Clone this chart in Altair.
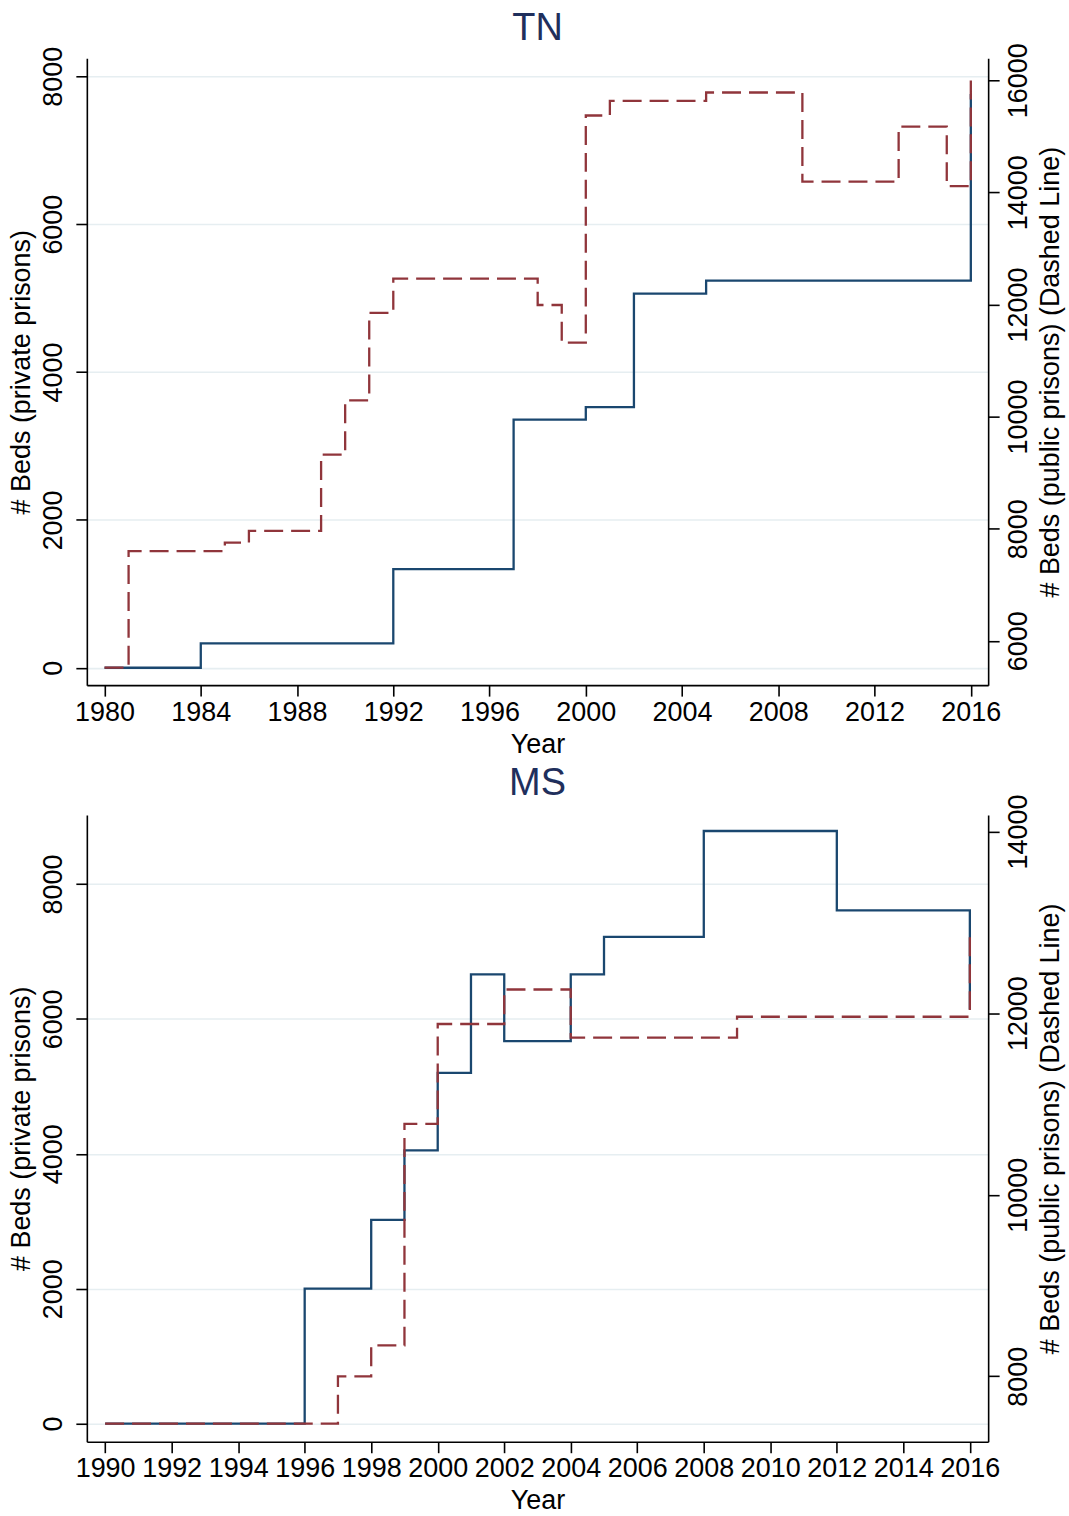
import altair as alt
import pandas as pd

BLUE = "#1a476f"
RED = "#90353b"
TITLE_COLOR = "#1f2f5c"
GRID = "#e6eef1"
FONT = "Liberation Sans"

# ---- TN data ----
tn_years = list(range(1980, 2017))
tn_private = ([0] * 4 + [330] * 8 + [1335] * 5 + [3355] * 3 + [3525] * 2
              + [5060] * 3 + [5235] * 11 + [7760])
tn_public = ([5520] + [7600] * 4 + [7750] + [7960] * 3 + [9320] + [10290]
             + [11850] + [12460] * 6 + [11990] + [11320] + [15370]
             + [15630] * 4 + [15780] * 4 + [14190] * 4 + [15170] * 2
             + [14110] + [16080])
tn_xticks = list(range(1980, 2017, 4))
tn_left_ticks = [0, 2000, 4000, 6000, 8000]
tn_right_ticks = [6000, 8000, 10000, 12000, 14000, 16000]

# ---- MS data ----
ms_years = list(range(1990, 2017))
ms_private = ([0] * 6 + [2000] * 2 + [3020] + [4050] + [5200] + [6660]
              + [5670] * 2 + [6660] + [7215] * 3 + [8785] * 4 + [7610] * 4
              + [6140])
ms_public = ([7480] * 7 + [8000] + [8340] + [10780] + [11880] * 2
             + [12260] * 2 + [11730] * 5 + [11960] * 7 + [12860])
ms_xticks = list(range(1990, 2017, 2))
ms_left_ticks = [0, 2000, 4000, 6000, 8000]
ms_right_ticks = [8000, 10000, 12000, 14000]


def panel(title, years, priv, pub, xticks, xdom, ldom, rdom, lticks, rticks,
          w, h, toff):
    df = pd.DataFrame({"Year": years, "priv": priv, "pub": pub})
    base = alt.Chart(df)
    x = alt.X(
        "Year:Q",
        scale=alt.Scale(domain=xdom, nice=False, zero=False),
        axis=alt.Axis(values=xticks, format="d", grid=False, title="Year",
                      labelFlush=False, labelPadding=3, titlePadding=6),
    )
    blue = base.mark_line(interpolate="step-after", color=BLUE,
                          strokeWidth=2.3).encode(
        x=x,
        y=alt.Y(
            "priv:Q",
            scale=alt.Scale(domain=ldom, nice=False, zero=False),
            axis=alt.Axis(values=lticks, orient="left", grid=True, format="d",
                          title="# Beds (private prisons)",
                          labelAngle=270, labelAlign="center",
                          labelBaseline="bottom", labelPadding=8,
                          titlePadding=4),
        ),
    )
    red = base.mark_line(interpolate="step-after", color=RED,
                         strokeWidth=2.3, strokeDash=[19, 8]).encode(
        x=x,
        y=alt.Y(
            "pub:Q",
            scale=alt.Scale(domain=rdom, nice=False, zero=False),
            axis=alt.Axis(values=rticks, orient="right", grid=False,
                          format="d",
                          title="# Beds (public prisons) (Dashed Line)",
                          labelAngle=270, labelAlign="center",
                          labelBaseline="top", labelPadding=6,
                          titleAngle=270, titleBaseline="top",
                          titlePadding=6),
        ),
    )
    return alt.layer(blue, red).resolve_scale(y="independent").properties(
        width=w, height=h,
        title=alt.TitleParams(title, frame="group", anchor="middle",
                              fontSize=38, font=FONT, fontWeight="normal",
                              color=TITLE_COLOR, baseline="bottom",
                              offset=toff),
    )


top = panel("TN", tn_years, tn_private, tn_public, tn_xticks,
            [1979.265, 2016.72], [-235, 8243], [5209, 16390],
            tn_left_ticks, tn_right_ticks, 903, 628, -43)
bottom = panel("MS", ms_years, ms_private, ms_public, ms_xticks,
               [1989.45, 2016.55], [-269, 9024], [7280, 14183],
               ms_left_ticks, ms_right_ticks, 903, 628, -47)

chart = alt.vconcat(top, bottom, spacing=8).properties(
    padding={"left": 8, "top": 8, "right": 5, "bottom": 5},
    background="white",
).configure_view(stroke=None).configure_axis(
    labelFont=FONT, titleFont=FONT, labelFontSize=27, titleFontSize=27,
    titleFontWeight="normal", labelColor="black", titleColor="black",
    domainColor="black", domainWidth=1.6, tickColor="black", tickWidth=1.6,
    tickSize=11, gridColor=GRID, gridWidth=1.6,
)

chart.save("out.html", embed_options={"renderer": "svg", "actions": False})
